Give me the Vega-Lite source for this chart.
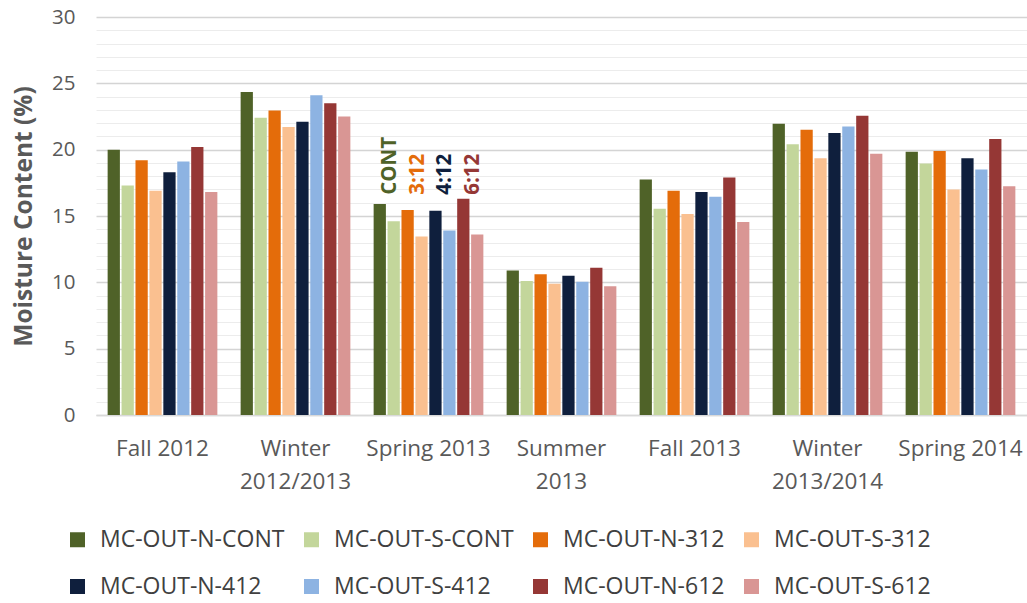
{
  "$schema": "https://vega.github.io/schema/vega-lite/v6.json",
  "width": 931,
  "height": 398,
  "autosize": "none",
  "padding": {"left": 96, "top": 17, "right": 0, "bottom": 188},
  "background": "white",
  "config": {
    "view": {"stroke": null},
    "font": "Open Sans",
    "axis": {"labelFont": "Open Sans", "titleFont": "Open Sans"},
    "legend": {"labelFont": "Open Sans"}
  },
  "datasets": {
    "mc": [
      {"season": "Fall 2012", "series": "MC-OUT-N-CONT", "mc": 20.0},
      {"season": "Fall 2012", "series": "MC-OUT-S-CONT", "mc": 17.3},
      {"season": "Fall 2012", "series": "MC-OUT-N-312", "mc": 19.2},
      {"season": "Fall 2012", "series": "MC-OUT-S-312", "mc": 16.9},
      {"season": "Fall 2012", "series": "MC-OUT-N-412", "mc": 18.3},
      {"season": "Fall 2012", "series": "MC-OUT-S-412", "mc": 19.1},
      {"season": "Fall 2012", "series": "MC-OUT-N-612", "mc": 20.2},
      {"season": "Fall 2012", "series": "MC-OUT-S-612", "mc": 16.8},
      {"season": "Winter 2012/2013", "series": "MC-OUT-N-CONT", "mc": 24.35},
      {"season": "Winter 2012/2013", "series": "MC-OUT-S-CONT", "mc": 22.4},
      {"season": "Winter 2012/2013", "series": "MC-OUT-N-312", "mc": 22.95},
      {"season": "Winter 2012/2013", "series": "MC-OUT-S-312", "mc": 21.7},
      {"season": "Winter 2012/2013", "series": "MC-OUT-N-412", "mc": 22.1},
      {"season": "Winter 2012/2013", "series": "MC-OUT-S-412", "mc": 24.1},
      {"season": "Winter 2012/2013", "series": "MC-OUT-N-612", "mc": 23.5},
      {"season": "Winter 2012/2013", "series": "MC-OUT-S-612", "mc": 22.5},
      {"season": "Spring 2013", "series": "MC-OUT-N-CONT", "mc": 15.9},
      {"season": "Spring 2013", "series": "MC-OUT-S-CONT", "mc": 14.6},
      {"season": "Spring 2013", "series": "MC-OUT-N-312", "mc": 15.45},
      {"season": "Spring 2013", "series": "MC-OUT-S-312", "mc": 13.45},
      {"season": "Spring 2013", "series": "MC-OUT-N-412", "mc": 15.4},
      {"season": "Spring 2013", "series": "MC-OUT-S-412", "mc": 13.9},
      {"season": "Spring 2013", "series": "MC-OUT-N-612", "mc": 16.3},
      {"season": "Spring 2013", "series": "MC-OUT-S-612", "mc": 13.6},
      {"season": "Summer 2013", "series": "MC-OUT-N-CONT", "mc": 10.9},
      {"season": "Summer 2013", "series": "MC-OUT-S-CONT", "mc": 10.1},
      {"season": "Summer 2013", "series": "MC-OUT-N-312", "mc": 10.6},
      {"season": "Summer 2013", "series": "MC-OUT-S-312", "mc": 9.9},
      {"season": "Summer 2013", "series": "MC-OUT-N-412", "mc": 10.5},
      {"season": "Summer 2013", "series": "MC-OUT-S-412", "mc": 10.05},
      {"season": "Summer 2013", "series": "MC-OUT-N-612", "mc": 11.1},
      {"season": "Summer 2013", "series": "MC-OUT-S-612", "mc": 9.7},
      {"season": "Fall 2013", "series": "MC-OUT-N-CONT", "mc": 17.75},
      {"season": "Fall 2013", "series": "MC-OUT-S-CONT", "mc": 15.55},
      {"season": "Fall 2013", "series": "MC-OUT-N-312", "mc": 16.9},
      {"season": "Fall 2013", "series": "MC-OUT-S-312", "mc": 15.15},
      {"season": "Fall 2013", "series": "MC-OUT-N-412", "mc": 16.8},
      {"season": "Fall 2013", "series": "MC-OUT-S-412", "mc": 16.45},
      {"season": "Fall 2013", "series": "MC-OUT-N-612", "mc": 17.9},
      {"season": "Fall 2013", "series": "MC-OUT-S-612", "mc": 14.55},
      {"season": "Winter 2013/2014", "series": "MC-OUT-N-CONT", "mc": 21.95},
      {"season": "Winter 2013/2014", "series": "MC-OUT-S-CONT", "mc": 20.4},
      {"season": "Winter 2013/2014", "series": "MC-OUT-N-312", "mc": 21.5},
      {"season": "Winter 2013/2014", "series": "MC-OUT-S-312", "mc": 19.35},
      {"season": "Winter 2013/2014", "series": "MC-OUT-N-412", "mc": 21.25},
      {"season": "Winter 2013/2014", "series": "MC-OUT-S-412", "mc": 21.75},
      {"season": "Winter 2013/2014", "series": "MC-OUT-N-612", "mc": 22.55},
      {"season": "Winter 2013/2014", "series": "MC-OUT-S-612", "mc": 19.7},
      {"season": "Spring 2014", "series": "MC-OUT-N-CONT", "mc": 19.85},
      {"season": "Spring 2014", "series": "MC-OUT-S-CONT", "mc": 18.95},
      {"season": "Spring 2014", "series": "MC-OUT-N-312", "mc": 19.9},
      {"season": "Spring 2014", "series": "MC-OUT-S-312", "mc": 17.0},
      {"season": "Spring 2014", "series": "MC-OUT-N-412", "mc": 19.35},
      {"season": "Spring 2014", "series": "MC-OUT-S-412", "mc": 18.5},
      {"season": "Spring 2014", "series": "MC-OUT-N-612", "mc": 20.8},
      {"season": "Spring 2014", "series": "MC-OUT-S-612", "mc": 17.25}
    ],
    "ann": [
      {"season": "Spring 2013", "series": "MC-OUT-N-CONT", "label": "CONT", "mc": 16.6},
      {"season": "Spring 2013", "series": "MC-OUT-N-312", "label": "3:12", "mc": 16.6},
      {"season": "Spring 2013", "series": "MC-OUT-N-412", "label": "4:12", "mc": 16.6},
      {"season": "Spring 2013", "series": "MC-OUT-N-612", "label": "6:12", "mc": 16.6}
    ]
  },
  "encoding": {
    "x": {
      "field": "season", "type": "nominal", "sort": null,
      "scale": {"paddingInner": 0.175, "paddingOuter": 0.0875},
      "axis": {
        "title": null, "labelAngle": 0, "ticks": false,
        "domainColor": "#d9d9d9", "domainWidth": 1.5,
        "labelFontSize": 22.5, "labelColor": "#595959", "labelPadding": 22,
        "labelLineHeight": 33,
        "labelExpr": "indexof(datum.label,'Winter')==0 || indexof(datum.label,'Summer')==0 ? split(datum.label,' ') : datum.label"
      }
    },
    "xOffset": {
      "field": "series", "type": "nominal", "sort": null,
      "scale": {"domain": ["MC-OUT-N-CONT","MC-OUT-S-CONT","MC-OUT-N-312","MC-OUT-S-312","MC-OUT-N-412","MC-OUT-S-412","MC-OUT-N-612","MC-OUT-S-612"], "paddingInner": 0.12}
    },
    "y": {
      "field": "mc", "type": "quantitative",
      "scale": {"domain": [0, 30], "nice": false},
      "axis": {
        "title": "Moisture Content (%)", "titleFontSize": 24.5, "titleFontWeight": "bold", "titleColor": "#595959",
        "titlePadding": 15,
        "values": [0,1,2,3,4,5,6,7,8,9,10,11,12,13,14,15,16,17,18,19,20,21,22,23,24,25,26,27,28,29,30],
        "labelExpr": "datum.value % 5 === 0 ? datum.label : ''",
        "labelFontSize": 20.5, "labelColor": "#595959", "labelPadding": 21,
        "domain": false, "ticks": false,
        "gridColor": {"condition": {"test": "datum.value % 5 === 0", "value": "#d4d4d4"}, "value": "#ececec"},
        "gridWidth": {"condition": {"test": "datum.value % 5 === 0", "value": 1.6}, "value": 1}
      }
    }
  },
  "layer": [
    {
      "data": {"name": "mc"},
      "mark": {"type": "bar"},
      "encoding": {
        "color": {
          "field": "series", "type": "nominal", "sort": null,
          "scale": {
            "domain": ["MC-OUT-N-CONT","MC-OUT-S-CONT","MC-OUT-N-312","MC-OUT-S-312","MC-OUT-N-412","MC-OUT-S-412","MC-OUT-N-612","MC-OUT-S-612"],
            "range": ["#4f6228","#c3d69b","#e46c0a","#fac090","#0f1f3d","#8db3e2","#953735","#d99694"]
          },
          "legend": {
            "title": null, "orient": "none", "legendX": -30, "legendY": 511,
            "columns": 4, "direction": "horizontal",
            "symbolType": "square", "symbolSize": 225, "symbolStrokeWidth": 0,
            "labelFontSize": 23, "labelColor": "#404040", "labelOffset": 11, "labelLimit": 400,
            "columnPadding": 15, "rowPadding": 23
          }
        }
      }
    },
    {
      "data": {"name": "ann"},
      "mark": {"type": "text", "angle": 270, "align": "left", "baseline": "top", "fontSize": 20.5, "fontWeight": "bold", "font": "Open Sans"},
      "encoding": {
        "text": {"field": "label"},
        "color": {"field": "series", "type": "nominal", "sort": null}
      }
    }
  ]
}
